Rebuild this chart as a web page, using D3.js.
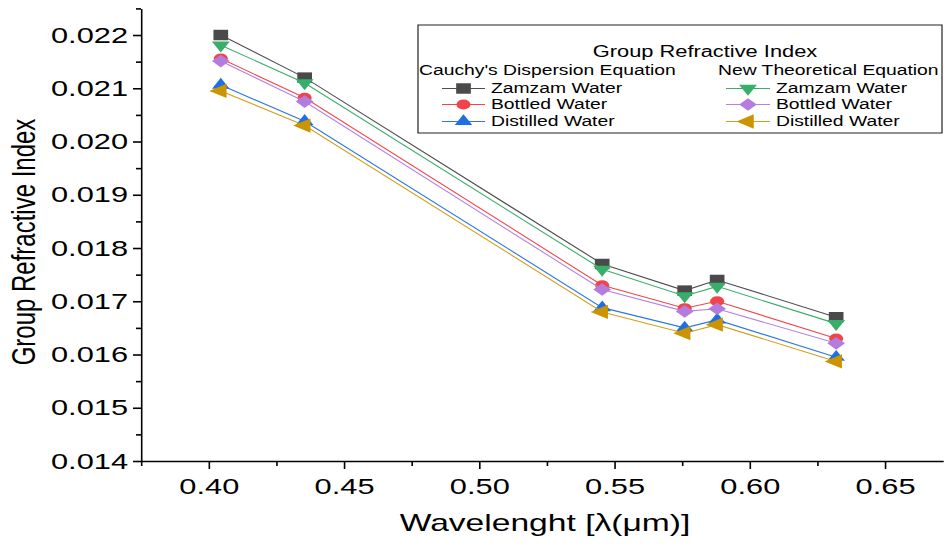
<!DOCTYPE html>
<html>
<head>
<meta charset="utf-8">
<script src="https://cdn.jsdelivr.net/npm/d3@7"></script>
<style>
  html, body { margin: 0; padding: 0; background: #fff; }
  text { font-family: "Liberation Sans", Arial, sans-serif; }
</style>
</head>
<body>
<svg id="chart"></svg>
<script>
// wavelengths (um)
const wavelength = [0.4045, 0.4355, 0.5455, 0.5760, 0.5880, 0.6320];

// Cauchy's dispersion equation
const cauchyZamzam    = [0.02200, 0.02120, 0.01770, 0.01720, 0.01740, 0.01670];
const cauchyBottled   = [0.02156, 0.02082, 0.01730, 0.01687, 0.01700, 0.01630];
const cauchyDistilled = [0.02106, 0.02038, 0.01688, 0.01650, 0.01665, 0.01595];

// new theoretical equation
const newZamzam    = [0.02181, 0.02110, 0.01760, 0.01710, 0.01728, 0.01658];
const newBottled   = [0.02151, 0.02075, 0.01722, 0.01681, 0.01686, 0.01621];
const newDistilled = [0.02095, 0.02030, 0.01680, 0.01640, 0.01656, 0.01587];

const xTicks = [0.40, 0.45, 0.50, 0.55, 0.60, 0.65];
const xMinor = [0.375, 0.425, 0.475, 0.525, 0.575, 0.625];
const yTicks = [0.014, 0.015, 0.016, 0.017, 0.018, 0.019, 0.020, 0.021, 0.022];
const yMinor = [0.0145, 0.0155, 0.0165, 0.0175, 0.0185, 0.0195, 0.0205, 0.0215, 0.0225];

const series = [
  { name: "Zamzam Water",    values: cauchyZamzam,    line: "#4d4d4d", fill: "#4a4a4a", shape: "square" },
  { name: "Bottled Water",   values: cauchyBottled,   line: "#f0464a", fill: "#f0444a", shape: "circle" },
  { name: "Distilled Water", values: cauchyDistilled, line: "#2a78e4", fill: "#1f6fe0", shape: "up" },
  { name: "Zamzam Water",    values: newZamzam,       line: "#3aad6c", fill: "#37ae6a", shape: "down" },
  { name: "Bottled Water",   values: newBottled,      line: "#b681e0", fill: "#b47ddd", shape: "diamond" },
  { name: "Distilled Water", values: newDistilled,    line: "#d2a017", fill: "#cc9500", shape: "left" }
];

// the picture is stretched sideways, so draw narrow and stretch the svg
const k = 1.4;
const W = 945 / k, H = 545;
const sx = v => v / k;

const svg = d3.select("#chart")
  .attr("width", 945).attr("height", H)
  .attr("viewBox", `0 0 ${W} ${H}`)
  .attr("preserveAspectRatio", "none");

const x = d3.scaleLinear().domain([0.375, 0.6715]).range([sx(141), sx(943)]);
const y = d3.scaleLinear().domain([0.014, 0.0225]).range([461, 8.4]);

// axes
const yAxis = svg.append("g").attr("transform", `translate(${x(0.375)},0)`);
yAxis.call(d3.axisLeft(y).tickValues(yTicks).tickFormat(d3.format(".3f"))
  .tickSizeInner(sx(8)).tickSizeOuter(0).tickPadding(sx(5)));
const yAxisMinor = svg.append("g").attr("transform", `translate(${x(0.375)},0)`);
yAxisMinor.call(d3.axisLeft(y).tickValues(yMinor).tickFormat("")
  .tickSizeInner(sx(5)).tickSizeOuter(0));
yAxisMinor.select(".domain").remove();

const xAxis = svg.append("g").attr("transform", `translate(0,${y(0.014)})`);
xAxis.call(d3.axisBottom(x).tickValues(xTicks).tickFormat(d3.format(".2f"))
  .tickSizeInner(8).tickSizeOuter(0).tickPadding(9));
const xAxisMinor = svg.append("g").attr("transform", `translate(0,${y(0.014)})`);
xAxisMinor.call(d3.axisBottom(x).tickValues(xMinor).tickFormat("")
  .tickSizeInner(5).tickSizeOuter(0));
xAxisMinor.select(".domain").remove();

svg.selectAll(".domain, .tick line")
  .attr("stroke", "#000")
  .attr("stroke-width", 1.6)
  .attr("vector-effect", "non-scaling-stroke");
svg.selectAll(".tick text")
  .attr("fill", "#000")
  .style("font-size", "22px");

// axis titles
svg.append("text")
  .attr("x", sx(545)).attr("y", 531)
  .attr("text-anchor", "middle")
  .style("font-size", "24px")
  .text("Wavelenght [λ(μm)]");

svg.append("text")
  .attr("transform", `translate(${sx(35)},242) rotate(-90)`)
  .attr("text-anchor", "middle")
  .style("font-size", "24px")
  .text("Group Refractive Index");

// markers
function marker(shape) {
  switch (shape) {
    case "square":  return { d: d3.symbol(d3.symbolSquare, 110)(), rot: 0 };
    case "circle":  return { d: d3.symbol(d3.symbolCircle, 80)(), rot: 0 };
    case "up":      return { d: d3.symbol(d3.symbolTriangle, 68)(), rot: 0 };
    case "down":    return { d: d3.symbol(d3.symbolTriangle, 70)(), rot: 180 };
    case "diamond": return { d: d3.symbol(d3.symbolSquare, 80)(), rot: 45 };
    case "left":    return { d: d3.symbol(d3.symbolTriangle, 88)(), rot: -90 };
  }
}

const line = d3.line()
  .x((d, i) => x(wavelength[i]))
  .y(d => y(d));

series.forEach(s => {
  const g = svg.append("g");
  g.append("path")
    .datum(s.values)
    .attr("fill", "none")
    .attr("stroke", s.line)
    .attr("stroke-width", 1.1)
    .attr("vector-effect", "non-scaling-stroke")
    .attr("d", line);
  const m = marker(s.shape);
  g.selectAll("path.pt")
    .data(s.values)
    .join("path")
    .attr("class", "pt")
    .attr("d", m.d)
    .attr("fill", s.fill)
    .attr("transform", (d, i) => `translate(${x(wavelength[i])},${y(d)}) rotate(${m.rot})`);
});

// legend
const legend = svg.append("g");
legend.append("rect")
  .attr("x", sx(418)).attr("y", 25)
  .attr("width", sx(942 - 418)).attr("height", 108)
  .attr("fill", "#fff")
  .attr("stroke", "#222")
  .attr("stroke-width", 1.2)
  .attr("vector-effect", "non-scaling-stroke");

legend.append("text")
  .attr("x", sx(705)).attr("y", 57)
  .attr("text-anchor", "middle")
  .style("font-size", "15.6px")
  .text("Group Refractive Index");
legend.append("text")
  .attr("x", sx(419)).attr("y", 75)
  .style("font-size", "13.8px")
  .text("Cauchy's Dispersion Equation");
legend.append("text")
  .attr("x", sx(718)).attr("y", 75)
  .style("font-size", "13.8px")
  .text("New Theoretical Equation");

const rowY = [88.5, 104.5, 121.5];
series.forEach((s, i) => {
  const col = i < 3 ? 0 : 1;
  const cy = rowY[i % 3];
  const x0 = col === 0 ? 442 : 726;
  const x1 = col === 0 ? 485 : 770;
  const tx = col === 0 ? 491 : 776;
  legend.append("line")
    .attr("x1", sx(x0)).attr("x2", sx(x1))
    .attr("y1", cy).attr("y2", cy)
    .attr("stroke", s.line)
    .attr("stroke-width", 1.1)
    .attr("vector-effect", "non-scaling-stroke");
  const m = marker(s.shape);
  legend.append("path")
    .attr("d", m.d)
    .attr("fill", s.fill)
    .attr("transform", `translate(${sx((x0 + x1) / 2)},${cy}) rotate(${m.rot})`);
  legend.append("text")
    .attr("x", sx(tx)).attr("y", cy + 5)
    .style("font-size", "13.8px")
    .text(s.name);
});
</script>
</body>
</html>
